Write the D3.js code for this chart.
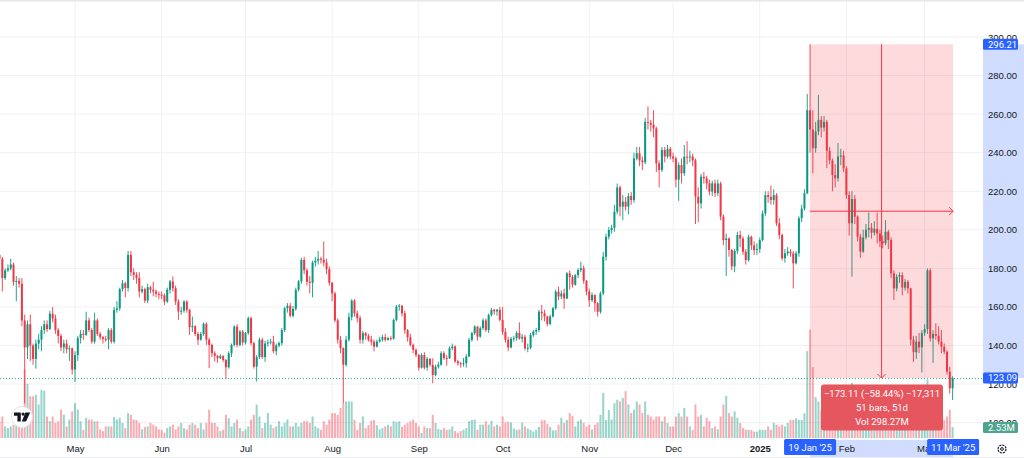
<!DOCTYPE html>
<html>
<head>
<meta charset="utf-8">
<script src="https://cdn.jsdelivr.net/npm/d3@7"></script>
<style>
  html, body { margin: 0; padding: 0; background: #fff; }
  svg { display: block; font-family: Roboto, "Liberation Sans", sans-serif; }
</style>
</head>
<body>
<svg width="1024" height="458"></svg>
<script>
// daily candles, one value per day starting at startDay (open = previous close)
var startDay = "2024-04-04";
var firstOpen = 187;

var close = [
  // Apr (4th..30th)
  185, 175, 179, 180, 182, 173, 173.5, 172, 153, 139, 151, 140, 133, 141, 143, 148, 151, 148.5, 156.5, 154, 148, 145, 139, 141, 138, 138.5, 127.5,
  // May
  135, 143.8, 146, 145.5, 153, 148, 142, 153, 146, 144.3, 143.3, 143, 148, 142, 158.5, 159.3, 169.2, 172.3, 169.8, 187, 178, 176.6, 175, 168, 169.2, 163.3, 170.2, 168.9, 168, 166.8, 166.3,
  // Jun
  166, 162.8, 168.9, 173.2, 169.7, 162.8, 157.6, 158, 162.8, 158.5, 149.5, 150, 146, 143, 146, 151.2, 143, 140.3, 136, 134.7, 133.4, 134.5, 132.5, 128.7, 136, 140.3, 149.8, 140.3, 147.2, 141.5,
  // Jul
  146.4, 154.2, 141.2, 129, 134, 143, 134, 141, 141.5, 142, 137, 140, 141.2, 148, 159.3, 160.6, 155.4, 159, 168.9, 173.2, 184.4, 179, 173, 172.5, 183, 184, 185, 184.5, 183, 179.6, 172.5,
  // Aug
  167, 153, 143, 138.6, 130, 143, 154.7, 163.3, 156.7, 154.2, 143, 146.4, 145, 143, 142, 139.4, 142, 143, 144.3, 142.9, 143.8, 143.5, 153.3, 160.2, 160.6, 156.7, 148, 144.3, 140.3, 137.7, 135.1,
  // Sep
  128.5, 135, 128.5, 133, 130, 124.7, 129, 130, 136, 133.5, 133.4, 138.6, 139.5, 131.7, 130.8, 130.5, 130.8, 134.3, 142.9, 146.4, 149.8, 144.6, 149, 153, 148, 155.9, 158.5, 157.7, 158.5, 153.3,
  // Oct
  147, 143, 139, 143.5, 143.8, 146.5, 143.6, 144.5, 138.5, 138.8, 145.4, 147.2, 148, 157.5, 156.7, 155, 151.2, 155, 159.3, 167.9, 165.4, 167, 164.4, 177.4, 175.5, 171.5, 176.5, 179.1, 180, 173.5, 168,
  // Nov
  163.5, 166.2, 161.9, 157.5, 167, 186, 196.4, 199.9, 201, 209.4, 222, 212, 214.6, 212, 217.5, 215.4, 237, 239.7, 236, 235, 256, 255.5, 254.5, 252.6, 234.5, 231, 241.4, 238, 242, 238,
  // Dec
  237, 226, 233.6, 229.3, 237.9, 237.5, 238, 236, 217.2, 213.7, 227.5, 226.7, 224.1, 219.8, 224.1, 219, 224, 206.8, 194.7, 195.5, 189.5, 181, 189, 197.3, 195.5, 188.6, 184.3, 196.4, 192, 189.5, 190,
  // Jan
  194.7, 208.5, 218, 217, 215.5, 218, 203.4, 197.3, 185.2, 187.8, 188.7, 187.8, 182.6, 187.8, 206, 211, 219, 262, 252, 242.3, 251, 257, 253, 256, 241, 236, 228.4, 226.7, 238, 238.5, 231.8,
  // Feb
  218, 203.4, 216, 206.8, 196.4, 188.7, 196, 200, 201, 198.5, 200.5, 198, 194, 193, 199, 194.7, 177.4, 169.6, 175.7, 176.5, 170, 173, 169.6, 143, 136.5, 142, 139, 146.5,
  // Mar (1st..11th)
  148.5, 179, 143.7, 146, 145, 142, 139.4, 136.8, 126.4, 117.8, 123.09
];

var high = [
  191, 186, 180, 182, 185, 183, 176, 175, 175, 156, 153, 156, 141, 143, 146, 150, 153, 153, 158, 160, 156, 149, 146, 143, 143, 140, 139,
  137, 145, 148, 148, 157.5, 154.5, 149, 157, 154, 147, 145, 145, 149, 149, 160, 163, 170, 174, 173, 189, 189, 180, 178, 178, 171, 170, 172, 171, 173, 169, 168,
  168, 167, 170, 174, 175.8, 171, 164, 160, 163.5, 163.5, 159, 155, 150.5, 147, 147, 152, 152, 144, 141, 137, 135, 135.5, 135, 133, 137, 141, 150.5, 151, 148, 148,
  147, 155, 155, 142, 135, 144, 144, 142.5, 143, 143.5, 145, 141, 142, 149, 160, 162, 162, 160.5, 170, 174, 185.5, 186, 180, 176, 184, 186, 189, 186, 194, 185, 181,
  173, 168, 154, 145, 139, 145, 157, 164, 164, 158, 155.5, 147.5, 147, 146, 145, 143, 143, 144.5, 145.5, 146, 144.5, 145, 154, 161, 161.5, 161, 158, 148.5, 146, 141, 138.5,
  135.5, 136, 136.5, 134, 133.5, 133.4, 130, 131.5, 137, 137, 135, 139.5, 141, 140, 132.5, 131.5, 133.5, 135.5, 144, 147, 150.5, 150, 150, 154, 154, 156.5, 159.5, 159, 159, 160,
  160, 149, 144.5, 144.5, 145, 147.5, 152, 146, 145.5, 141, 146.5, 148, 149, 158.5, 161, 158.5, 155.5, 156, 160, 169, 170.5, 168.5, 169.5, 178, 179, 176.5, 177, 180, 183.5, 181.5, 174,
  169.5, 167.5, 166.5, 162.5, 168, 188.5, 198, 201.5, 202.5, 213, 224, 223, 218, 217, 219, 219.5, 240, 243, 243, 238, 258, 264, 257, 262, 253.5, 236, 243, 243, 244, 243,
  240, 238, 235, 237, 244, 246, 241, 239.5, 237, 222, 229, 230, 228, 226, 225.5, 226, 226, 225, 208, 198, 196, 190, 190, 199, 199.5, 196.5, 190, 197.5, 197, 194, 193,
  196, 210, 220, 220, 223, 221, 219, 206, 198, 190, 191, 190, 189, 189, 207, 213, 221, 270.4, 296.21, 262, 256, 270, 259, 259, 257, 243, 237, 234, 245, 242, 241,
  233, 220, 220, 218, 207.5, 198, 200, 203, 209, 203.5, 204.5, 209, 200, 197, 205, 200, 196, 179, 177, 178, 178, 174.5, 174, 170, 145, 145, 146.5, 148,
  151, 180, 180, 148, 151.5, 150, 148, 141, 137.5, 129, 124
];

var low = [
  182, 168, 174, 178, 179, 171, 163, 170, 150, 110, 133, 132, 130, 128, 138, 137, 146, 147, 148, 152, 146, 141, 137, 136, 136, 132, 125,
  121, 132, 141, 143, 145, 147, 141, 141, 145, 143, 141, 142, 138, 141, 141, 157, 158, 168, 165, 168, 176, 174, 172, 165, 167, 162, 162, 167, 165.5, 165, 164,
  164, 161, 162, 167, 168, 161, 153.3, 156, 157, 157, 145.5, 147, 145, 140.3, 142.5, 145, 140.3, 128.2, 134, 131.7, 131, 133, 131.5, 122.5, 128, 134, 139.5, 139, 139.5, 140,
  140.5, 145.5, 140, 128, 121.3, 133, 133, 131.5, 139.5, 140.5, 136, 135, 139, 140, 147, 157, 154.5, 154.5, 158, 168, 172, 177, 171, 167, 165, 181, 182, 182.5, 181, 177, 171,
  163, 152, 141, 136, 110, 129, 142, 153, 155, 152, 141, 141, 143, 142, 140, 136.9, 139, 141.5, 142, 142, 142.5, 142.5, 143, 152.5, 158, 155, 146, 142, 139.5, 136, 134,
  127, 128, 127.5, 127, 129, 120.4, 124, 128, 129.5, 132.5, 129.5, 133, 137.5, 131, 129.5, 128.5, 129, 128.5, 134, 142, 145.5, 142.5, 144, 148, 147, 146.5, 155, 156, 155.5, 152.5,
  145.5, 141.5, 137, 138.5, 142, 142.5, 143, 141.5, 137.5, 136.5, 138, 144.5, 145.5, 147, 153, 152.5, 150, 150.5, 154.5, 158.5, 163.5, 164, 159, 164, 169, 170, 171, 175, 178, 172, 166,
  160, 162.5, 157.5, 155, 156.5, 166, 184, 195, 198, 199, 208, 207, 205, 210, 208, 213, 214, 236, 233, 231, 234, 252, 251, 248, 230, 222, 230, 235, 237, 236.5,
  235, 222, 215, 224, 228, 234, 235, 233, 203, 204, 211, 224, 221, 218, 217.5, 217, 217.5, 205, 192, 176, 186, 179, 178, 187.5, 191, 187, 182, 183.5, 189.5, 187, 187,
  188, 194, 207, 214, 213, 213, 202, 195, 184, 183, 186.5, 186, 169.6, 182, 186, 204, 210, 218.5, 240, 229.3, 240, 249, 248, 251, 232, 234, 220, 222, 225, 233.5, 230,
  216, 197, 175.7, 203, 194, 185.5, 188, 195, 196, 195.5, 197, 193, 191, 190.5, 192, 190, 175, 163.6, 168, 172.5, 166, 168.5, 167, 140, 131.5, 133, 136, 126,
  145, 146, 142, 131, 143, 140.5, 136, 135.5, 125, 115, 111.7
];

// volume, millions
var volume = [
  3.9, 5.0, 2.7, 2.3, 2.7, 3.1, 3.5, 3.3, 5.4, 15.9, 12.6, 9.7, 9.7, 10.0, 7.8, 11.2, 11.0, 5.0, 3.9, 5.0, 3.5, 3.9, 6.6, 5.4, 2.7, 4.3, 6.2,
  8.1, 6.6, 3.9, 1.9, 4.7, 4.3, 4.3, 3.9, 3.9, 2.0, 1.6, 2.7, 2.7, 2.7, 4.9, 4.3, 4.7, 3.5, 2.3, 5.8, 5.4, 4.3, 4.2, 3.5, 2.0, 2.6, 2.7, 3.5, 3.1, 2.7, 2.0,
  1.9, 1.2, 2.3, 2.7, 3.1, 2.0, 2.7, 3.5, 2.3, 2.0, 3.1, 3.5, 3.1, 2.3, 3.5, 2.0, 3.5, 6.6, 3.5, 3.5, 2.7, 1.6, 1.9, 5.4, 4.6, 2.7, 3.5, 4.3, 2.3, 1.6,
  2.0, 2.7, 4.3, 5.4, 7.8, 5.0, 2.3, 3.5, 5.8, 3.1, 2.3, 2.7, 3.9, 2.7, 3.5, 4.3, 2.7, 2.7, 3.5, 2.7, 3.5, 3.9, 3.9, 3.5, 5.0, 2.7, 2.3, 1.9, 3.9, 3.1, 4.3,
  5.8, 5.8, 5.4, 7.0, 8.1, 8.5, 8.5, 8.5, 4.2, 1.9, 3.5, 5.0, 2.3, 3.0, 4.0, 4.2, 3.0, 2.0, 2.3, 2.7, 3.1, 2.7, 3.9, 3.7, 3.9, 2.6, 3.1, 3.5, 3.9, 4.3, 3.5,
  2.7, 1.2, 2.7, 2.3, 2.3, 5.4, 3.5, 2.1, 1.9, 2.3, 1.9, 2.0, 2.7, 1.6, 1.2, 1.6, 1.9, 2.3, 3.9, 4.2, 4.3, 1.9, 3.1, 3.1, 3.9, 3.1, 4.0, 2.7, 3.1, 2.7,
  5.0, 3.6, 3.8, 3.6, 2.2, 1.9, 2.0, 3.6, 2.7, 2.2, 1.9, 1.5, 1.9, 2.6, 4.1, 4.2, 3.3, 2.6, 1.8, 1.8, 3.1, 4.7, 3.5, 4.2, 5.8, 5.2, 2.7, 3.9, 4.3, 3.5, 2.7,
  3.1, 2.0, 3.1, 3.6, 5.4, 10.5, 4.2, 6.5, 4.3, 8.1, 8.9, 8.5, 9.3, 10.9, 7.8, 5.8, 6.6, 8.5, 7.8, 5.8, 8.5, 5.4, 5.0, 4.3, 5.0, 5.0, 3.9, 5.0, 3.5, 2.7,
  2.7, 5.0, 5.8, 5.0, 7.0, 5.0, 2.7, 1.9, 7.8, 5.0, 5.4, 2.7, 4.7, 3.9, 2.3, 2.7, 2.0, 5.0, 7.8, 9.8, 5.8, 5.0, 6.2, 4.7, 3.5, 2.3, 2.0, 1.9, 1.9, 1.5, 1.5,
  1.9, 1.9, 1.9, 2.7, 1.9, 3.5, 3.1, 2.7, 3.1, 2.7, 3.5, 4.2, 4.2, 4.6, 4.2, 4.2, 5.8, 20.2, 25.2, 16.5, 9.5, 8.5, 6.5, 5.5, 4.5, 4.0, 8.0, 5.0, 4.5, 4.0, 4.5,
  4.0, 7.5, 12.8, 7.0, 4.5, 4.5, 4.5, 2.8, 3.0, 3.5, 3.2, 3.8, 3.0, 2.6, 2.2, 2.4, 4.5, 5.5, 3.5, 3.0, 4.5, 2.0, 2.2, 6.0, 7.5, 5.5, 4.5, 7.0,
  3.0, 13.6, 9.0, 7.0, 4.5, 4.0, 4.5, 4.2, 5.0, 6.6, 2.53
];

var priceTicks = [100, 120, 140, 160, 180, 200, 220, 240, 260, 280, 300];
var monthTicks = ["2024-05-01", "2024-06-01", "2024-07-01", "2024-08-01", "2024-09-01", "2024-10-01",
                  "2024-11-01", "2024-12-01", "2025-01-01", "2025-02-01", "2025-03-01"];
var monthLabels = ["May", "Jun", "Jul", "Aug", "Sep", "Oct", "Nov", "Dec", "2025", "Feb", "Mar"];

// date & price range tool
var rangeFrom = "2025-01-19", rangeTo = "2025-03-11";
var rangeHigh = 296.21, lastPrice = 123.09;
var rangeText = ["\u2212173.11 (\u221258.44%) \u221217,311", "51 bars, 51d", "Vol 298.27M"];
var rangeDateLabels = ["19 Jan '25", "11 Mar '25"];
var lastVolLabel = "2.53M";

var UP = "#089981", DOWN = "#f23645";
var UP_VOL = "rgba(8,153,129,0.42)", DOWN_VOL = "rgba(242,54,69,0.42)";
var BLUE = "#2962ff";

var svg = d3.select("svg"),
    plotW = 983, plotH = 440;

var parse = d3.utcParse("%Y-%m-%d");
var start = parse(startDay);
if (high.length != close.length || low.length != close.length || volume.length != close.length)
  console.warn("length mismatch", close.length, high.length, low.length, volume.length);

var data = close.map(function(c, i) {
  var o = i ? close[i - 1] : firstOpen;
  return {
    date: d3.utcDay.offset(start, i),
    open: o, close: c,
    high: Math.max(high[i], o, c), low: Math.min(low[i], o, c),
    vol: volume[i]
  };
});

var x = d3.scaleUtc().domain([parse("2024-05-01"), parse("2025-03-11")]).range([75, 952.6]);
var y = d3.scaleLinear().domain([100, 300]).range([422.6, 37]);
var yv = d3.scaleLinear().domain([0, 25]).range([438, 330.5]);

svg.append("defs").append("clipPath").attr("id", "plot")
  .append("rect").attr("width", plotW).attr("height", plotH);

// grid
var grid = svg.append("g").attr("clip-path", "url(#plot)");
grid.selectAll("line.h").data(priceTicks).enter().append("line")
  .attr("x1", 0).attr("x2", plotW)
  .attr("y1", function(d) { return y(d); }).attr("y2", function(d) { return y(d); })
  .attr("stroke", "#f0f1f4").attr("stroke-width", 1);
grid.selectAll("line.v").data(monthTicks).enter().append("line")
  .attr("x1", function(d) { return x(parse(d)); }).attr("x2", function(d) { return x(parse(d)); })
  .attr("y1", 0).attr("y2", plotH)
  .attr("stroke", "#f0f1f4").attr("stroke-width", 1);

var plot = svg.append("g").attr("clip-path", "url(#plot)");

// volume
plot.append("g").selectAll("rect").data(data).enter().append("rect")
  .attr("x", function(d) { return x(d.date) - 1; })
  .attr("width", 2)
  .attr("y", function(d) { return yv(d.vol); })
  .attr("height", function(d) { return yv(0) - yv(d.vol); })
  .attr("fill", function(d) { return d.close >= d.open ? UP_VOL : DOWN_VOL; });

// candles
var candle = plot.append("g").selectAll("g").data(data).enter().append("g")
  .attr("fill", function(d) { return d.close >= d.open ? UP : DOWN; })
  .attr("stroke", function(d) { return d.close >= d.open ? UP : DOWN; });
candle.append("line")
  .attr("x1", function(d) { return x(d.date); }).attr("x2", function(d) { return x(d.date); })
  .attr("y1", function(d) { return y(d.high); }).attr("y2", function(d) { return y(d.low); })
  .attr("stroke-width", 0.9);
candle.append("rect")
  .attr("stroke", "none")
  .attr("x", function(d) { return x(d.date) - 1; })
  .attr("width", 2)
  .attr("y", function(d) { return y(Math.max(d.open, d.close)); })
  .attr("height", function(d) { return Math.max(1, Math.abs(y(d.open) - y(d.close))); });

// last price dotted line
plot.append("line")
  .attr("x1", 0).attr("x2", plotW)
  .attr("y1", y(lastPrice) + 0.5).attr("y2", y(lastPrice) + 0.5)
  .attr("stroke", "#22ab94").attr("stroke-width", 1).attr("stroke-dasharray", "1,2");

// range tool
var rx0 = x(parse(rangeFrom)), rx1 = x(parse(rangeTo)) + 0.5,
    ry0 = y(rangeHigh), ry1 = y(lastPrice),
    rxm = (rx0 + rx1) / 2, rym = (ry0 + ry1) / 2;
var tool = svg.append("g");
tool.append("rect")
  .attr("x", rx0).attr("y", ry0).attr("width", rx1 - rx0).attr("height", ry1 - ry0)
  .attr("fill", "rgba(242,54,69,0.18)");
tool.append("line").attr("x1", rxm).attr("x2", rxm).attr("y1", ry0).attr("y2", ry1 - 0.5)
  .attr("stroke", DOWN).attr("stroke-width", 1);
tool.append("path").attr("d", "M" + (rxm - 4) + "," + (ry1 - 4) + "L" + rxm + "," + ry1 + "L" + (rxm + 4) + "," + (ry1 - 4))
  .attr("fill", "none").attr("stroke", DOWN).attr("stroke-width", 1);
tool.append("line").attr("x1", rx0).attr("x2", rx1).attr("y1", rym).attr("y2", rym)
  .attr("stroke", DOWN).attr("stroke-width", 1);
tool.append("path").attr("d", "M" + (rx1 - 4) + "," + (rym - 4) + "L" + rx1 + "," + rym + "L" + (rx1 - 4) + "," + (rym + 4))
  .attr("fill", "none").attr("stroke", DOWN).attr("stroke-width", 1);

var box = tool.append("g");
box.append("rect").attr("x", 821).attr("y", 384.5).attr("width", 122).attr("height", 46).attr("rx", 3)
  .attr("fill", "#e6565f");
box.selectAll("text").data(rangeText).enter().append("text")
  .attr("x", 882).attr("y", function(d, i) { return 396.5 + i * 14; })
  .attr("text-anchor", "middle").attr("fill", "#fff").attr("font-size", 9.5)
  .text(function(d) { return d; });

// TradingView logo
var logo = svg.append("g").attr("transform", "translate(22,417)");
logo.append("circle").attr("r", 10.5).attr("fill", "#fff").attr("stroke", "#e3e5ea").attr("stroke-width", 1);
logo.append("path").attr("d", "M-8,-4.5H-1.2V4.5H-4.6V-1.2H-8Z M3.4,-4.5H8.2L4,4.5H-0.2Z").attr("fill", "#131722");
logo.append("circle").attr("cx", 1.1).attr("cy", -2.9).attr("r", 1.6).attr("fill", "#131722");

// right price axis
svg.append("rect").attr("x", plotW).attr("y", ry0).attr("width", 1024 - plotW).attr("height", ry1 - ry0)
  .attr("fill", "rgba(41,98,255,0.22)");
var yAxis = svg.append("g").attr("transform", "translate(" + plotW + ",0)")
  .call(d3.axisRight(y).tickValues(priceTicks).tickSize(0).tickPadding(5).tickFormat(d3.format(".2f")));
yAxis.select(".domain").remove();
yAxis.selectAll("text").attr("font-size", 9.5).attr("fill", "#131722").attr("font-family", null);

function axisLabel(yy, txt, fill) {
  var g = svg.append("g");
  g.append("rect").attr("x", plotW).attr("y", yy - 5.5).attr("width", 35).attr("height", 11).attr("rx", 1.5).attr("fill", fill);
  g.append("text").attr("x", plotW + 5).attr("y", yy + 3.4).attr("fill", "#fff").attr("font-size", 9.5).text(txt);
}
axisLabel(ry0, d3.format(".2f")(rangeHigh), BLUE);
axisLabel(ry1, d3.format(".2f")(lastPrice), BLUE);
axisLabel(yv(volume[volume.length - 1]) + 0.5, lastVolLabel, "#4fa48f");

// bottom time axis
svg.append("rect").attr("x", rx0).attr("y", plotH).attr("width", rx1 - rx0).attr("height", 458 - plotH)
  .attr("fill", "rgba(41,98,255,0.22)");
var xAxis = svg.append("g").attr("transform", "translate(0," + plotH + ")")
  .call(d3.axisBottom(x).tickValues(monthTicks.map(parse)).tickSize(0).tickPadding(5.5)
    .tickFormat(function(d, i) { return monthLabels[i]; }));
xAxis.select(".domain").remove();
xAxis.selectAll("text").attr("font-size", 9.5).attr("fill", "#131722").attr("font-family", null)
  .attr("font-weight", function(d) { return d.getUTCMonth() === 0 ? 600 : null; });

[[rx0, rangeDateLabels[0]], [x(parse(rangeTo)) + 0.5, rangeDateLabels[1]]].forEach(function(p) {
  var g = svg.append("g");
  g.append("rect").attr("x", p[0] - 26).attr("y", plotH - 1).attr("width", 52).attr("height", 16).attr("rx", 1.5).attr("fill", BLUE);
  g.append("text").attr("x", p[0]).attr("y", plotH + 10.5).attr("text-anchor", "middle")
    .attr("fill", "#fff").attr("font-size", 9.5).text(p[1]);
});

// settings gear
var gear = svg.append("g").attr("transform", "translate(1002,449)");
gear.append("circle").attr("r", 4).attr("fill", "none").attr("stroke", "#131722").attr("stroke-width", 1.2)
  .attr("stroke-dasharray", "2.2,0.9");
gear.append("circle").attr("r", 1.4).attr("fill", "none").attr("stroke", "#131722").attr("stroke-width", 1);

// frame
svg.append("rect").attr("x", 0).attr("y", 0).attr("width", 1024).attr("height", 1.5).attr("fill", "#e6e7ea");
svg.append("line").attr("x1", 0).attr("x2", 1024).attr("y1", 457.5).attr("y2", 457.5).attr("stroke", "#eceef1");
</script>
</body>
</html>
